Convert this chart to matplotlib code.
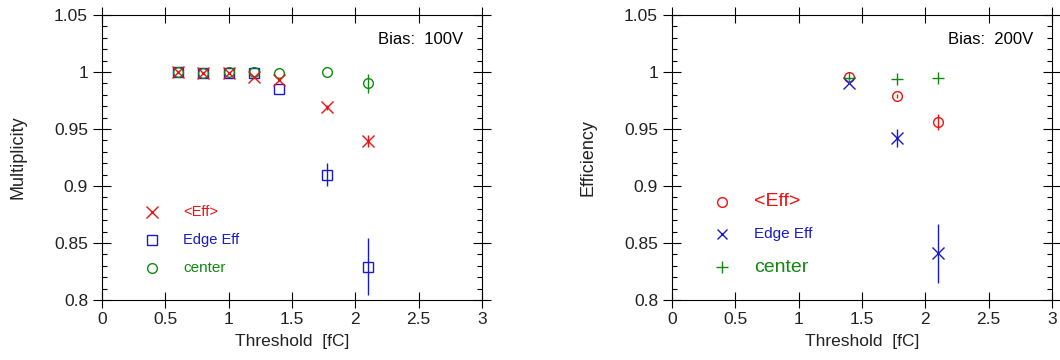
import numpy as np
import matplotlib.pyplot as plt
from matplotlib.ticker import MultipleLocator

# Bias 100V (multiplicity)
thr_100 = [0.6, 0.8, 1.0, 1.2, 1.4, 1.78, 2.1]
eff_100 = [1.0, 0.999, 0.999, 0.996, 0.993, 0.969, 0.9395]
eff_100_err = [0.0, 0.0, 0.0, 0.0, 0.0, 0.002, 0.005]
edge_100 = [1.0, 0.999, 0.999, 0.999, 0.985, 0.910, 0.829]
edge_100_err = [0.0, 0.0, 0.0, 0.0, 0.0, 0.010, 0.025]
center_100 = [1.0, 0.999, 1.0, 1.0, 0.999, 1.0, 0.990]
center_100_err = [0.0, 0.0, 0.0, 0.0, 0.0, 0.0, 0.008]

# Bias 200V (efficiency)
thr_200 = [1.4, 1.78, 2.1]
eff_200 = [0.9955, 0.979, 0.956]
eff_200_err = [0.0, 0.002, 0.007]
edge_200 = [0.990, 0.942, 0.841]
edge_200_err = [0.0, 0.008, 0.026]
center_200 = [0.995, 0.994, 0.995]
center_200_err = [0.0, 0.0, 0.0]

RED = "#ee1111"
BLUE = "#1a1acc"
GREEN = "#118811"

plt.rcParams["font.family"] = ["Liberation Sans", "DejaVu Sans"]

fig = plt.figure(figsize=(10.6, 3.6), dpi=100)
ax1 = fig.add_axes([102 / 1060, 60 / 360, 380 / 1060, 285 / 360])
ax2 = fig.add_axes([672 / 1060, 60 / 360, 380 / 1060, 285 / 360])


def style_axis(ax, ylabel):
    ax.set_xlim(0, 3)
    ax.set_ylim(0.8, 1.05)
    ax.xaxis.set_major_locator(MultipleLocator(0.5))
    ax.yaxis.set_major_locator(MultipleLocator(0.05))
    ax.yaxis.set_minor_locator(MultipleLocator(0.01))
    ax.tick_params(which="major", direction="inout", length=13, width=0.8,
                   top=True, right=True, labelsize=12.5, colors="black",
                   labelcolor="#222222")
    ax.tick_params(axis="x", which="major", length=12, pad=3)
    ax.tick_params(axis="y", which="minor", direction="in", length=3.5,
                   width=0.8, left=True, right=True)
    ax.tick_params(axis="x", which="minor", bottom=False, top=False)
    ax.set_yticks([0.8, 0.85, 0.9, 0.95, 1.0, 1.05])
    ax.set_yticklabels(["0.8", "0.85", "0.9", "0.95", "1", "1.05"])
    ax.set_xticks([0, 0.5, 1, 1.5, 2, 2.5, 3])
    ax.set_xticklabels(["0", "0.5", "1", "1.5", "2", "2.5", "3"])
    for s in ax.spines.values():
        s.set_linewidth(0.8)
    ax.set_xlabel("Threshold  [fC]", fontsize=12.5, color="#222222", labelpad=5)
    ax.set_ylabel(ylabel, fontsize=13, color="#222222", labelpad=20)


style_axis(ax1, "Multiplicity")
style_axis(ax2, "Efficiency")

# left panel
ax1.errorbar(thr_100, edge_100, yerr=edge_100_err, fmt="s", ms=7,
             mfc="none", mec=BLUE, ecolor=BLUE, mew=1.0, elinewidth=1.0)
ax1.errorbar(thr_100, center_100, yerr=center_100_err, fmt="o", ms=7,
             mfc="none", mec=GREEN, ecolor=GREEN, mew=1.0, elinewidth=1.0)
ax1.errorbar(thr_100, eff_100, yerr=eff_100_err, fmt="x", ms=9,
             mec=RED, ecolor=RED, mew=1.0, elinewidth=1.0)
ax1.text(0.95, 0.915, "Bias:  100V", transform=ax1.transAxes, ha="right",
         va="center", fontsize=12, color="black")

leg1 = [("x", RED, "<Eff>", 10.5, 9), ("s", BLUE, "Edge Eff", 10.5, 7),
        ("o", GREEN, "center", 11, 7)]
for i, (m, c, lab, fs, ms) in enumerate(leg1):
    yy = 0.309 - i * 0.098
    ax1.plot(0.132, yy, marker=m, ms=ms, mfc="none", mec=c, mew=1.0,
             transform=ax1.transAxes, clip_on=False)
    ax1.text(0.213, yy, lab, color=c, fontsize=fs, va="center",
             transform=ax1.transAxes)

# right panel
ax2.errorbar(thr_200, eff_200, yerr=eff_200_err, fmt="o", ms=7,
             mfc="none", mec=RED, ecolor=RED, mew=1.0, elinewidth=1.0)
ax2.errorbar(thr_200, edge_200, yerr=edge_200_err, fmt="x", ms=8,
             mec=BLUE, ecolor=BLUE, mew=1.0, elinewidth=1.0)
ax2.errorbar(thr_200, center_200, yerr=center_200_err, fmt="+", ms=9,
             mec=GREEN, ecolor=GREEN, mew=1.0, elinewidth=1.0)
ax2.text(0.95, 0.915, "Bias:  200V", transform=ax2.transAxes, ha="right",
         va="center", fontsize=12, color="black")

leg2 = [("o", RED, "<Eff>", 14, 7), ("x", BLUE, "Edge Eff", 11, 7),
        ("+", GREEN, "center", 14, 9)]
for i, (m, c, lab, fs, ms) in enumerate(leg2):
    yy = 0.345 - i * 0.115
    ax2.plot(0.132, yy, marker=m, ms=ms, mfc="none", mec=c, mew=1.0,
             transform=ax2.transAxes, clip_on=False)
    ax2.text(0.215, yy, lab, color=c, fontsize=fs, va="center",
             transform=ax2.transAxes)

fig.savefig("out.png", dpi=100)
